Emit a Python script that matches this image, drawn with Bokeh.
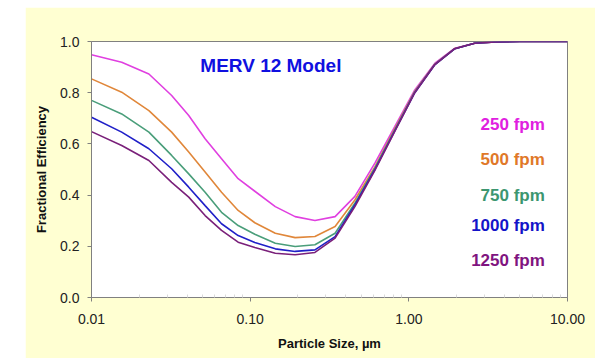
from bokeh.plotting import figure
from bokeh.models import Label, FixedTicker, Range1d, Spacer
from bokeh.layouts import row, column
from bokeh.embed import file_html
from bokeh.resources import INLINE

# Particle size (um)
size_um = [0.01, 0.0155, 0.023, 0.032, 0.041, 0.052, 0.066, 0.084, 0.107, 0.144,
           0.192, 0.256, 0.343, 0.457, 0.611, 0.817, 1.09, 1.46, 1.95, 2.6,
           3.5, 5.0, 10.0]

eff_250 = [0.948, 0.919, 0.873, 0.789, 0.711, 0.620, 0.542, 0.464, 0.415, 0.355,
           0.316, 0.301, 0.316, 0.395, 0.525, 0.668, 0.811, 0.915, 0.974, 0.993,
           0.998, 1.0, 1.0]
eff_500 = [0.854, 0.802, 0.730, 0.646, 0.568, 0.490, 0.411, 0.340, 0.292, 0.251,
           0.234, 0.238, 0.277, 0.381, 0.510, 0.660, 0.805, 0.912, 0.973, 0.993,
           0.998, 1.0, 1.0]
eff_750 = [0.770, 0.717, 0.646, 0.555, 0.483, 0.411, 0.333, 0.281, 0.247, 0.212,
           0.199, 0.206, 0.251, 0.368, 0.505, 0.655, 0.803, 0.911, 0.972, 0.993,
           0.998, 1.0, 1.0]
eff_1000 = [0.704, 0.646, 0.581, 0.503, 0.431, 0.359, 0.288, 0.242, 0.215, 0.190,
            0.180, 0.186, 0.238, 0.362, 0.500, 0.652, 0.800, 0.910, 0.972, 0.993,
            0.998, 1.0, 1.0]
eff_1250 = [0.648, 0.594, 0.535, 0.450, 0.392, 0.320, 0.262, 0.216, 0.195, 0.173,
            0.167, 0.176, 0.232, 0.355, 0.497, 0.650, 0.800, 0.910, 0.972, 0.993,
            0.998, 1.0, 1.0]

series_names = ["250 fpm", "500 fpm", "750 fpm", "1000 fpm", "1250 fpm"]
series_vals = [eff_250, eff_500, eff_750, eff_1000, eff_1250]
line_colors = ["#E040E0", "#E0873A", "#4A9E7A", "#2020C8", "#7A207A"]
text_colors = ["#E020E0", "#E07828", "#3C9670", "#1414C8", "#80147F"]

x_ticks = [0.01, 0.1, 1.0, 10.0]
x_tick_labels = ["0.01", "0.10", "1.00", "10.00"]
y_ticks = [0.0, 0.2, 0.4, 0.6, 0.8, 1.0]

FONT = "Liberation Sans"
BG = "#FFFFD2"

W, H = 570, 351
p = figure(width=W, height=H, x_axis_type="log",
           x_range=Range1d(0.01, 10), y_range=Range1d(0, 1),
           output_backend="svg", toolbar_location=None,
           min_border_left=66, min_border_right=28,
           min_border_top=34, min_border_bottom=61)
p.background_fill_color = "white"
p.border_fill_color = BG
p.outline_line_color = "#808080"
p.outline_line_width = 1
p.grid.visible = False

for vals, col in zip(series_vals, line_colors):
    p.line(size_um, vals, line_color=col, line_width=1.6)

# axes
minor = [m * d for d in [0.01, 0.1, 1.0] for m in range(2, 10)]
p.xaxis.ticker = FixedTicker(ticks=x_ticks, minor_ticks=minor)
p.xaxis.major_label_overrides = {t: s for t, s in zip(x_ticks, x_tick_labels)}
p.yaxis.ticker = FixedTicker(ticks=y_ticks)
p.yaxis.major_label_overrides = {t: f"{t:.1f}" for t in y_ticks}

for ax in (p.xaxis[0], p.yaxis[0]):
    ax.axis_line_color = "#808080"
    ax.major_tick_line_color = "#808080"
    ax.minor_tick_line_color = "#DADADA"
    ax.major_tick_out = 4
    ax.major_tick_in = 0
    ax.minor_tick_out = 0
    ax.minor_tick_in = 3
    ax.major_label_text_font = FONT
    ax.major_label_text_font_size = "14px"
    ax.major_label_text_color = "#222222"
    ax.axis_label_text_font = FONT
    ax.axis_label_text_font_style = "bold"
    ax.axis_label_text_font_size = "13px"
    ax.axis_label_text_color = "#111111"
p.yaxis.minor_tick_line_color = None
p.xaxis.axis_label = "Particle Size, \u00b5m"
p.yaxis.axis_label = "Fractional Efficiency"
p.xaxis.major_label_standoff = 12
p.yaxis.major_label_standoff = 8
p.xaxis.axis_label_standoff = 9
p.yaxis.axis_label_standoff = 8

# title annotation
p.add_layout(Label(x=0.0485, y=0.905, text="MERV 12 Model", text_font=FONT,
                   text_font_style="bold", text_font_size="19px",
                   text_color="#1010E0", text_baseline="middle", text_align="left"))

label_y = [0.675, 0.54, 0.40, 0.28, 0.145]
for name, yy, col in zip(series_names, label_y, text_colors):
    p.add_layout(Label(x=7.2, y=yy, text=name, text_font=FONT,
                       text_font_style="bold", text_font_size="17px",
                       text_color=col, text_baseline="middle", text_align="right"))

layout = column(Spacer(width=W + 25, height=7),
                row(Spacer(width=25, height=H), p))
open("out.html", "w").write(file_html(layout, INLINE))
